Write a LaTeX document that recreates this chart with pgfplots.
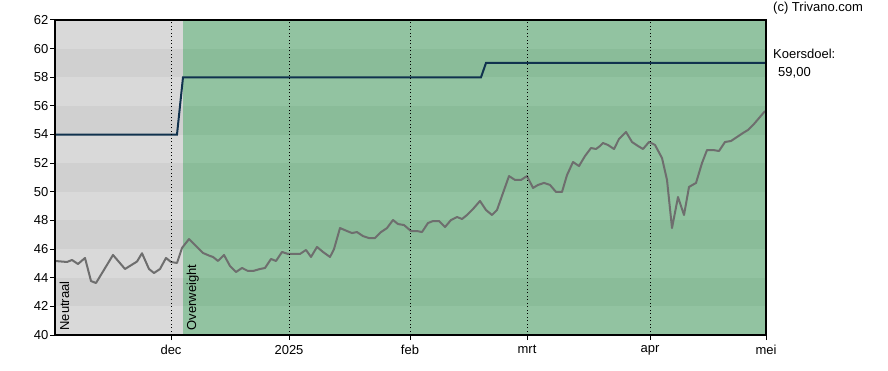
\documentclass[border=0pt]{standalone}
\usepackage{pgfplots}
\pgfplotsset{compat=1.18}
\usepackage{fontspec}
\setmainfont{Liberation Sans}
\definecolor{greyL}{RGB}{217,217,217}
\definecolor{greyD}{RGB}{208,208,208}
\definecolor{greenL}{RGB}{146,195,161}
\definecolor{greenD}{RGB}{138,188,153}
\definecolor{priceC}{RGB}{110,110,110}
\definecolor{targetC}{RGB}{16,50,78}
\begin{document}
\begin{tikzpicture}[font=\fontsize{13}{15}\selectfont]
\useasboundingbox (0,0) rectangle (888pt,370pt);
\begin{axis}[
  at={(55pt,35pt)}, anchor=south west,
  scale only axis, width=711pt, height=315pt,
  xmin=55, xmax=766, ymin=40, ymax=62,
  xtick={171,289,410,527,650,766},
  xticklabels={dec,2025,feb,mrt,apr,mei},
  ytick={40,42,...,62},
  /pgf/number format/assume math mode=true,
  tick label style={font=\fontsize{13}{15}\selectfont},
  xtick pos=bottom, ytick pos=left,
  tick align=outside, major tick length=5pt,
  tick style={black, line width=1pt},
  axis line style={black, line width=1.4pt},
  xmajorgrids,
  major grid style={black, line width=1pt, dash pattern=on 1pt off 2.5pt},
  axis on top,
  clip=false,
  yticklabel style={inner sep=0pt, xshift=-1.5pt},
  xticklabel style={inner sep=0pt, yshift=-5pt},
]
% background bands
\pgfplotsinvokeforeach{40,44,...,60}{
  \fill[greyL] (axis cs:55,#1) rectangle (axis cs:183,#1+2);
  \fill[greenL] (axis cs:183,#1) rectangle (axis cs:766,#1+2);
}
\pgfplotsinvokeforeach{42,46,...,58}{
  \fill[greyD] (axis cs:55,#1) rectangle (axis cs:183,#1+2);
  \fill[greenD] (axis cs:183,#1) rectangle (axis cs:766,#1+2);
}
% target line
\addplot[targetC, line width=2pt] coordinates {
(55,54) (177,54) (183,58) (481,58) (486,59) (766,59)};
% price
\addplot[priceC, line width=2pt, line join=round] coordinates {
(55,45.17)(67,45.10)(72,45.24)(78,44.96)(85,45.38)(91,43.77)(96,43.63)
(113,45.59)(125,44.61)(137,45.13)(142,45.71)(149,44.61)(154,44.33)(160,44.61)
(166,45.38)(171,45.10)(177,45.03)(182,46.08)(189,46.70)(197,46.15)(203,45.73)
(210,45.52)(213,45.45)(218,45.17)(224,45.59)(230,44.82)(236,44.40)(242,44.68)
(248,44.47)(253,44.47)(260,44.61)(265,44.68)(271,45.31)(276,45.17)(282,45.80)
(288,45.66)(300,45.66)(306,45.94)(311,45.45)(317,46.15)(323,45.80)(330,45.45)
(334,46.00)(340,47.47)(347,47.26)(352,47.12)(357,47.19)(363,46.91)(369,46.77)
(375,46.77)(381,47.19)(387,47.47)(393,48.03)(398,47.75)(404,47.68)(411,47.26)
(417,47.26)(422,47.19)(428,47.82)(433,47.96)(439,47.96)(445,47.54)(451,48.03)
(457,48.24)(462,48.10)(467,48.38)(473,48.80)(480,49.36)(486,48.73)(492,48.38)
(497,48.73)(503,49.92)(509,51.10)(515,50.83)(521,50.83)(527,51.10)(533,50.27)
(538,50.48)(544,50.62)(550,50.48)(556,49.99)(562,49.99)(567,51.17)(573,52.08)
(579,51.80)(585,52.50)(591,53.06)(596,52.99)(600,53.20)(603,53.41)(608,53.27)
(614,52.99)(619,53.69)(626,54.18)(632,53.48)(638,53.20)(643,52.99)(649,53.48)
(655,53.27)(662,52.36)(667,50.83)(672,47.47)(678,49.64)(684,48.38)(689,50.34)
(696,50.62)(702,52.01)(707,52.92)(713,52.92)(719,52.85)(725,53.48)(731,53.55)
(737,53.83)(743,54.11)(748,54.32)(754,54.74)(760,55.23)(765,55.64)};
\node[rotate=90, anchor=base west, inner sep=0pt] at (axis cs:69,40.3) {Neutraal};
\node[rotate=90, anchor=base west, inner sep=0pt] at (axis cs:196,40.3) {Overweight};
\end{axis}
\node[anchor=base west, inner sep=0pt] at (773pt,358pt) {(c) Trivano.com};
\node[anchor=base west, inner sep=0pt] at (773pt,311pt) {Koersdoel:};
\node[anchor=base west, inner sep=0pt] at (778pt,293pt) {59,00};
\end{tikzpicture}
\end{document}
